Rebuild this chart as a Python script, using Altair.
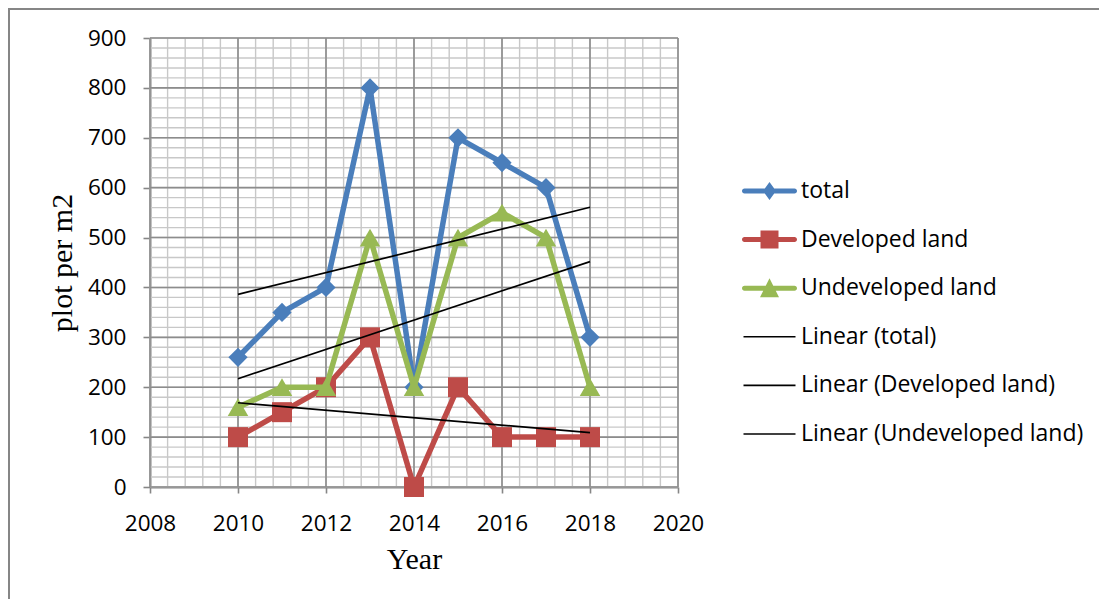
import altair as alt
import pandas as pd

# ---------------- data ----------------
years = [2010, 2011, 2012, 2013, 2014, 2015, 2016, 2017, 2018]
total = [260, 350, 400, 800, 200, 700, 650, 600, 300]
developed = [100, 150, 200, 300, 0, 200, 100, 100, 100]
undeveloped = [160, 200, 200, 500, 200, 500, 550, 500, 200]

series_names = ["total", "Developed land", "Undeveloped land"]
trend_names = ["Linear (total)", "Linear (Developed land)", "Linear (Undeveloped land)"]

x_ticks = [2008, 2010, 2012, 2014, 2016, 2018, 2020]
y_ticks = [0, 100, 200, 300, 400, 500, 600, 700, 800, 900]
x_minor = [round(2008 + 0.4 * i, 1) for i in range(31)]
y_minor = [20 * i for i in range(46)]

# ---------------- styles ----------------
series_colors = ["#4A7EBB", "#BE4B48", "#98B954"]
series_shapes = ["diamond", "square", "triangle-up"]
series_sizes = [370, 400, 420]

cap = "M-1.25,-0.125H1.25A0.125,0.125 0 0 1 1.25,0.125H-1.25A0.125,0.125 0 0 1 -1.25,-0.125Z"
thin = "M-1.3,-0.04H1.3V0.04H-1.3Z"
legend_paths = [
    cap + "M0,-0.45L0.325,0L0,0.45L-0.325,0Z",
    cap + "M-0.45,-0.45H0.45V0.45H-0.45Z",
    cap + "M0,-0.5L0.475,0.45L-0.475,0.45Z",
    thin, thin, thin,
]
legend_colors = series_colors + ["#000000", "#000000", "#000000"]
labels = series_names + trend_names

FONT = "Open Sans"
SERIF = "Liberation Serif"

xscale = alt.Scale(domain=[2008, 2020], nice=False, zero=False)
yscale = alt.Scale(domain=[0, 900], nice=False, zero=True)

x_axis = alt.Axis(
    values=x_ticks, format="d", grid=False, title="Year",
    labelFont=FONT, labelFontSize=22.5, labelColor="#000000", labelPadding=19,
    tickSize=6, tickColor="#868686", tickWidth=1.6,
    domainColor="#868686", domainWidth=2,
    titleFont=SERIF, titleFontSize=30, titleFontWeight="normal", titleColor="#000000",
    titleX=264, titleY=72, titleBaseline="middle", titleAlign="center",
    labelFlush=False, labelOverlap=False,
)
y_axis = alt.Axis(
    values=y_ticks, grid=False, title="plot per m2",
    labelFont=FONT, labelFontSize=22.5, labelColor="#000000", labelPadding=17,
    tickSize=7, tickColor="#868686", tickWidth=1.6,
    domainColor="#868686", domainWidth=2,
    titleFont=SERIF, titleFontSize=30, titleFontWeight="normal", titleColor="#000000",
    titleX=-88, titleY=224.5, titleBaseline="middle", titleAlign="center", titleAngle=270,
    labelFlush=False, labelOverlap=False,
)


def X(field):
    return alt.X(field, scale=xscale, axis=x_axis)


def Y(field):
    return alt.Y(field, scale=yscale, axis=y_axis)


# ---------------- grid ----------------
minor_x = alt.Chart(pd.DataFrame({"year": x_minor})).mark_rule(
    color="#C8C8C8", strokeWidth=1.4
).encode(x=X("year:Q"))
minor_y = alt.Chart(pd.DataFrame({"value": y_minor})).mark_rule(
    color="#C8C8C8", strokeWidth=1.4
).encode(y=Y("value:Q"))
major_x = alt.Chart(pd.DataFrame({"year": x_ticks})).mark_rule(
    color="#8C8C8C", strokeWidth=1.6
).encode(x=X("year:Q"))
major_y = alt.Chart(pd.DataFrame({"value": y_ticks})).mark_rule(
    color="#8C8C8C", strokeWidth=1.6
).encode(y=Y("value:Q"))

layers = [minor_x, minor_y, major_x, major_y]

for name, vals, color, shape, size in zip(series_names, [total, developed, undeveloped],
                                           series_colors, series_shapes, series_sizes):
    df = pd.DataFrame({"year": years, "value": vals})
    base = alt.Chart(df).encode(x=X("year:Q"), y=Y("value:Q"))
    layers.append(base.mark_line(color=color, strokeWidth=5.5, strokeJoin="round", strokeCap="round"))
    layers.append(base.mark_point(filled=True, shape=shape, size=size, color=color, opacity=1, strokeWidth=0))

for vals in [total, developed, undeveloped]:
    df = pd.DataFrame({"year": years, "value": vals})
    layers.append(
        alt.Chart(df).transform_regression("year", "value", extent=[2010, 2018])
        .mark_line(color="#000000", strokeWidth=1.7)
        .encode(x=X("year:Q"), y=Y("value:Q"))
    )

legend = alt.Legend(
    title=None, orient="none", legendX=599.5, legendY=133, padding=0,
    symbolSize=1600, symbolStrokeWidth=0, symbolOpacity=1,
    labelFont=FONT, labelFontSize=23, labelColor="#000000", labelOffset=11.5,
    labelLimit=400, rowPadding=16.6,
)
legend_layer = alt.Chart(pd.DataFrame({"label": labels})).transform_filter("false").mark_point(
    filled=True, opacity=1
).encode(
    color=alt.Color("label:N", scale=alt.Scale(domain=labels, range=legend_colors), legend=legend),
    shape=alt.Shape("label:N", scale=alt.Scale(domain=labels, range=legend_paths), legend=legend),
)
layers.append(legend_layer)

border = alt.Chart(pd.DataFrame({"a": [0]})).mark_rect(
    fill="transparent", stroke="#868686", strokeWidth=2
).encode(x=alt.value(-141), x2=alt.value(1000), y=alt.value(-29), y2=alt.value(620))
layers.append(border)

chart = alt.layer(*layers).properties(
    width=528, height=449,
    autosize=alt.AutoSizeParams(type="none"),
    padding={"left": 142, "top": 30, "right": 421, "bottom": 112},
    background="#FFFFFF",
).configure_view(stroke=None)

chart.save("out.html", embed_options={"renderer": "svg", "actions": False})
